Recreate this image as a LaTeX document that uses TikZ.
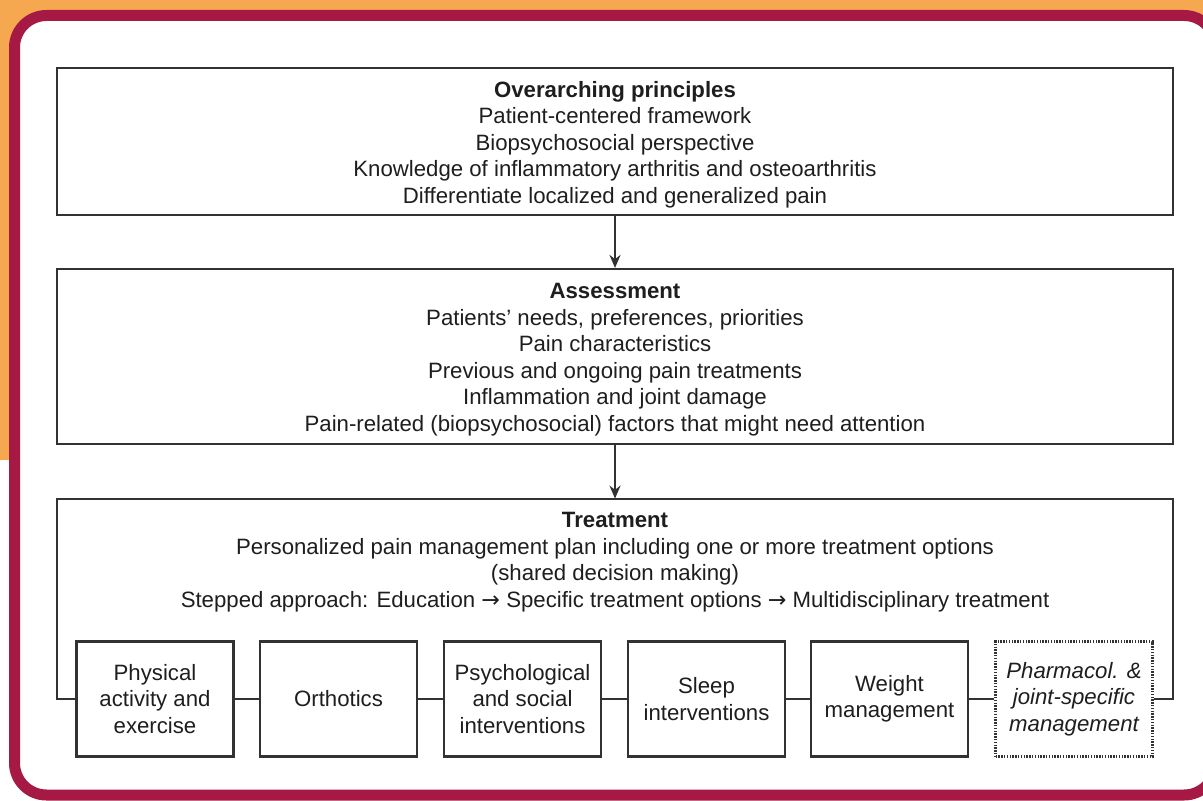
\documentclass[tikz,border=0pt]{standalone}
\usepackage{fontspec}
\setmainfont{Liberation Sans}
\newfontfamily\arrowfont{DejaVu Sans}
\usetikzlibrary{arrows.meta}
\definecolor{crim}{RGB}{165,25,68}
\definecolor{orng}{RGB}{246,168,80}
\definecolor{ink}{RGB}{30,30,30}
\definecolor{edge}{RGB}{50,50,50}
\newcommand{\steparrow}{{\arrowfont →}}
\begin{document}
\begin{tikzpicture}[x=0.5pt,y=-0.5pt,
  font=\fontsize{11.1}{13.25}\selectfont,
  bigbox/.style={draw=edge, line width=1.05pt, minimum width=558pt, align=center, inner sep=0pt, text=ink},
  optbox/.style={draw=edge, line width=1.05pt, minimum width=78.5pt, minimum height=57.5pt, align=center, inner sep=0pt, text=ink},
  dotbox/.style={optbox, line width=1.1pt, dash pattern=on 0.7pt off 0.7pt, font=\fontsize{11.1}{13.25}\selectfont\itshape},
  link/.style={draw=edge, line width=1.05pt},
  flow/.style={link, -{Stealth[length=6.5pt,width=5.5pt]}}]
\useasboundingbox (0,0) rectangle (1203,801);
\clip (0,0) rectangle (1203,801);
\fill[white] (0,0) rectangle (1203,801);
\fill[orng] (0,0) rectangle (1203,460);
\draw[crim, line width=5.5pt, fill=white, rounded corners=16pt] (14.5,15.5) rectangle (1216,795);

\node[bigbox, minimum height=73.5pt] (princ) at (615,141.5) {};
\node[align=center, inner sep=0pt, text=ink] (princtxt) at (615,144.5) {\textbf{Overarching principles}\\Patient-centered framework\\Biopsychosocial perspective\\Knowledge of inflammatory arthritis and osteoarthritis\\Differentiate localized and generalized pain};
\node[bigbox, minimum height=87.5pt] (assess) at (615,356.5) {};
\node[align=center, inner sep=0pt, text=ink] (assesstxt) at (615,359.5) {\textbf{Assessment}\\Patients’ needs, preferences, priorities\\Pain characteristics\\Previous and ongoing pain treatments\\Inflammation and joint damage\\Pain-related (biopsychosocial) factors that might need attention};
\node[minimum width=558pt, minimum height=86pt, inner sep=0pt] (treat) at (615,585) {};
\node[align=center, inner sep=0pt, text=ink] (treattxt) at (615,562) {\textbf{Treatment}\\Personalized pain management plan including one or more treatment options\\(shared decision making)\\Stepped approach: Education \steparrow{} Specific treatment options \steparrow{} Multidisciplinary treatment};

\node[optbox] (phys) at (155,699) {Physical\\activity and\\exercise};
\node[optbox] (orth) at (338.5,699) {Orthotics};
\node[optbox] (psych) at (522.5,699) {Psychological\\and social\\interventions};
\node[optbox] (sleep) at (706.5,699) {Sleep\\interventions};
\node[optbox] (weight) at (889.5,699) {Weight\\management};
\node[dotbox] (pharm) at (1074,699) {Pharmacol. \&\\joint-specific\\management};

\draw[flow] (princ.south) -- (assess.north);
\draw[flow] (assess.south) -- (treat.north);
\draw[link] (phys.west) -| (treat.north west) -- (treat.north east) |- (pharm.east);
\draw[link] (phys) -- (orth);
\draw[link] (orth) -- (psych);
\draw[link] (psych) -- (sleep);
\draw[link] (sleep) -- (weight);
\draw[link] (weight) -- (pharm);
\end{tikzpicture}
\end{document}
